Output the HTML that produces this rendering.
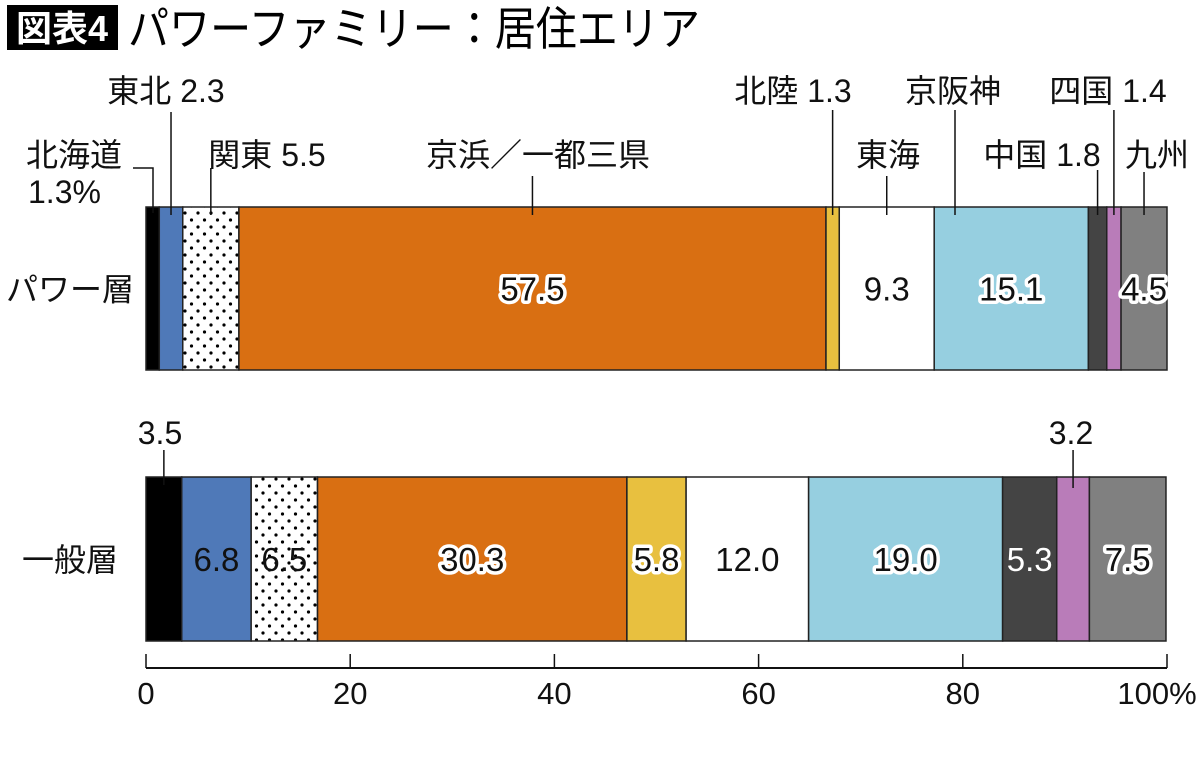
<!DOCTYPE html>
<html><head><meta charset="utf-8">
<style>
html,body{margin:0;padding:0;background:#fff;}
svg{display:block;font-family:"Liberation Sans","Noto Sans CJK JP",sans-serif;}
</style></head>
<body>
<svg id="chart" width="1200" height="762" viewBox="0 0 1200 762">
<defs>
<pattern id="dots" width="13" height="14" patternUnits="userSpaceOnUse">
<rect width="13" height="14" fill="#fff"/>
<circle cx="3" cy="3" r="1.6" fill="#000"/>
<circle cx="9.5" cy="10" r="1.6" fill="#000"/>
</pattern>
</defs>
<rect x="7" y="5" width="111" height="45" fill="#000"/>
<text x="62" y="41" text-anchor="middle" font-size="36" font-weight="bold" fill="#fff">図表4</text>
<text x="128" y="45" font-size="46" textLength="572" lengthAdjust="spacingAndGlyphs" fill="#000">パワーファミリー：居住エリア</text>
<g id="bars"></g>
<g id="axis"></g>
<g id="callouts" font-size="32" fill="#111"></g>
</svg>
<script>
const regions = ["北海道","東北","関東","京浜／一都三県","北陸","東海","京阪神","中国","四国","九州"];
const powerValues = [1.3,2.3,5.5,57.5,1.3,9.3,15.1,1.8,1.4,4.5];
const generalValues = [3.5,6.8,6.5,30.3,5.8,12.0,19.0,5.3,3.2,7.5];
const rowLabels = ["パワー層","一般層"];
const tickValues = [0,20,40,60,80,100];
const tickLabels = ["0","20","40","60","80","100%"];
const fills = ["#000","#4f79b8","url(#dots)","#d96f12","#e8c03f","#fff","#96cfe0","#444","#b97cb9","#808080"];
const ns="http://www.w3.org/2000/svg";
const X0=146,X1=1167;
function xs(v){return X0+(X1-X0)*v/100;}
const rows=[{vals:powerValues,y:207,h:163},{vals:generalValues,y:477,h:164}];
const bars=document.getElementById('bars');
function mk(tag,attrs,parent){const e=document.createElementNS(ns,tag);for(const k in attrs)e.setAttribute(k,attrs[k]);parent.appendChild(e);return e;}
rows.forEach((r,ri)=>{
  let cum=0;
  const rl=mk('text',{x:70,y:r.y+r.h/2+12,'text-anchor':'middle','font-size':32,fill:'#111'},bars);
  rl.textContent=rowLabels[ri];
  
  
  r.vals.forEach((v,i)=>{
    const x=xs(cum),w=xs(cum+v)-xs(cum);
    const rect=mk('rect',{x:x,y:r.y,width:w,height:r.h,fill:fills[i],stroke:'#222','stroke-width':1.5},bars);
    
    
    const showInside = ri===0 ? [3,5,6,9].includes(i) : ![0,8].includes(i);
    if(showInside){
      const outline = (ri===0 ? [3,6,9] : [3,4,6,9]).includes(i);
      const t=mk('text',{x:x+w/2,y:r.y+r.h/2+12,'text-anchor':'middle','font-size':33},bars);
      if(outline){t.setAttribute('fill','#111');t.setAttribute('stroke','#fff');t.setAttribute('stroke-width','7');t.setAttribute('paint-order','stroke');t.setAttribute('stroke-linejoin','round');}
      else t.setAttribute('fill', (ri===1&&i===7)?'#fff':'#111');
      t.textContent=v.toFixed(1);
      
      
    }
    r['c'+i]=x+w/2;
    cum+=v;
  });
});
const ax=document.getElementById('axis');
mk('line',{x1:X0,y1:668,x2:X1,y2:668,stroke:'#111','stroke-width':2},ax);
tickValues.forEach((v,i)=>{
  mk('line',{x1:xs(v),y1:654,x2:xs(v),y2:668,stroke:'#111','stroke-width':1.5},ax);
  const t=mk('text',{x:xs(v)+(i===5?-10:0),y:704,'text-anchor':'middle','font-size':31,fill:'#111'},ax);
  t.textContent=tickLabels[i];
  
  
});
const co=document.getElementById('callouts');
const p=rows[0],g=rows[1];
function line(pts){mk('polyline',{points:pts.map(q=>q.join(',')).join(' '),fill:'none',stroke:'#111','stroke-width':1.5},co);}
function txt(s,x,y,anchor,name){const t=mk('text',{x:x,y:y,'text-anchor':anchor||'middle'},co);t.textContent=s;}
txt(regions[0],26,166,'start','label-hokkaido');
txt(powerValues[0]+'%',28,203,'start','label-hokkaido-value');
line([[133,168],[153,168],[153,213]]);
txt(regions[1]+' '+powerValues[1],166,102,'middle','label-tohoku');
line([[p.c1,112],[p.c1,215]]);
txt(regions[2]+' '+powerValues[2],267,166,'middle','label-kanto');
line([[p.c2,168],[p.c2,215]]);
txt(regions[3],538,166,'middle','label-keihin');
line([[p.c3,176],[p.c3,215]]);
txt(regions[4]+' '+powerValues[4],793,102,'middle','label-hokuriku');
line([[p.c4,110],[p.c4,215]]);
txt(regions[5],888,166,'middle','label-tokai');
line([[p.c5,176],[p.c5,215]]);
txt(regions[6],953,102,'middle','label-keihanshin');
line([[955,110],[955,215]]);
txt(regions[7]+' '+powerValues[7],1042,166,'middle','label-chugoku');
line([[p.c7,170],[p.c7,215]]);
txt(regions[8]+' '+powerValues[8],1108,102,'middle','label-shikoku');
line([[p.c8,110],[p.c8,215]]);
txt(regions[9],1157,166,'middle','label-kyushu');
line([[p.c9,172],[p.c9,215]]);
txt(generalValues[0].toFixed(1),160,444,'middle','label-general-hokkaido');
line([[g.c0,450],[g.c0,485]]);
txt(generalValues[8].toFixed(1),1071,444,'middle','label-general-shikoku');
line([[g.c8,450],[g.c8,488]]);
</script>
</body></html>
